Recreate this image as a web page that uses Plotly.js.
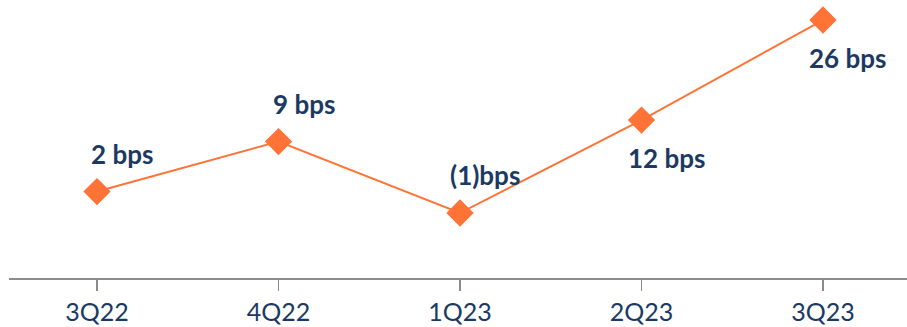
<!DOCTYPE html>
<html>
<head>
<meta charset="utf-8">
<script src="https://cdn.plot.ly/plotly-3.0.1.min.js"></script>
<style>
  html, body { margin: 0; padding: 0; background: #fff; }
  #chart { width: 907px; height: 327px; }
</style>
</head>
<body>
<div id="chart"></div>
<script>
// Data
const quarters = ["3Q22", "4Q22", "1Q23", "2Q23", "3Q23"];
const bpsValues = [2, 9, -1, 12, 26];
const bpsLabels = ["2 bps", "9 bps", "(1)bps", "12 bps", "26 bps"];

// Label placement (style): +1 above the point, -1 below
const labelSide = [1, 1, 1, -1, -1];

const lineColor = "#FF7336";
const navy = "#1B3A63";

const trace = {
  type: "scatter",
  mode: "lines+markers",
  x: quarters,
  y: bpsValues,
  line: { color: lineColor, width: 2 },
  marker: { symbol: "diamond", size: 21, color: lineColor },
  hoverinfo: "skip",
  cliponaxis: false
};

const annotations = quarters.map((q, i) => ({
  x: q,
  y: bpsValues[i],
  xref: "x",
  yref: "y",
  text: bpsLabels[i],
  showarrow: false,
  xshift: 25,
  yshift: labelSide[i] > 0 ? 38 : -38,
  font: { family: "Lato, 'Open Sans', sans-serif", size: 26, color: navy, weight: "bold" }
}));

const layout = {
  width: 907,
  height: 327,
  margin: { l: 9, r: 0, t: 0, b: 49 },
  paper_bgcolor: "#ffffff",
  plot_bgcolor: "#ffffff",
  showlegend: false,
  xaxis: {
    type: "category",
    range: [-0.485, 4.463],
    showgrid: false,
    zeroline: false,
    showline: true,
    linecolor: "#8C8C8C",
    linewidth: 1.5,
    ticks: "outside",
    ticklen: 11,
    tickwidth: 1.5,
    tickcolor: "#8C8C8C",
    tickfont: { family: "Lato, 'Open Sans', sans-serif", size: 25, color: navy },
    fixedrange: true
  },
  yaxis: {
    range: [-10.09, 28.8],
    visible: false,
    showgrid: false,
    zeroline: false,
    fixedrange: true
  },
  annotations: annotations
};

Plotly.newPlot("chart", [trace], layout, { displayModeBar: false, staticPlot: true });
</script>
</body>
</html>
